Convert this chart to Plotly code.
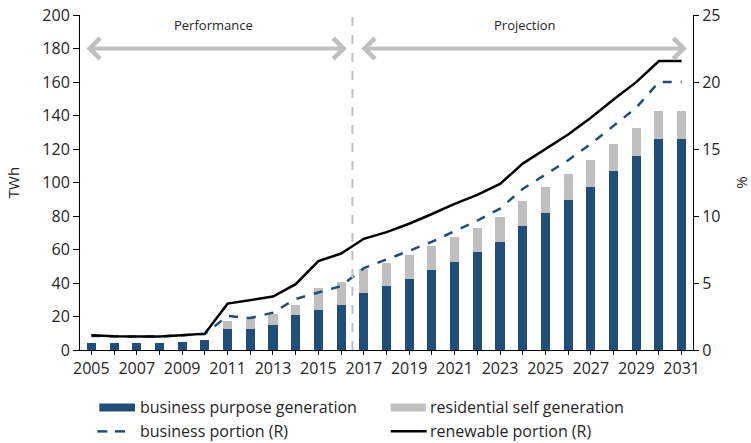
import plotly.graph_objects as go

years = list(range(2005, 2032))
business_gen = [4.0, 4.0, 4.4, 4.4, 4.8, 5.8, 12.7, 12.7, 15.1, 21.1, 23.9, 26.9,
                34.2, 38.0, 42.6, 47.6, 52.3, 58.3, 64.3, 73.8, 81.6, 89.4, 97.5,
                106.7, 115.6, 125.8, 125.8]
total_gen = [4.0, 4.0, 4.4, 4.4, 4.8, 5.8, 17.5, 19.5, 21.5, 26.9, 37.0, 40.6,
             48.5, 51.9, 56.9, 62.1, 67.5, 72.8, 79.4, 89.1, 97.5, 105.1, 113.4,
             122.7, 132.3, 142.7, 142.7]
residential_gen = [round(t - b, 1) for t, b in zip(total_gen, business_gen)]
business_portion = [1.05, 1.0, 1.0, 1.0, 1.1, 1.2, 2.54, 2.39, 2.79, 3.81, 4.29, 4.77,
                    6.11, 6.73, 7.40, 8.08, 8.85, 9.65, 10.55, 12.02, 13.09, 14.16,
                    15.38, 16.75, 18.08, 20.0, 20.0]
renewable_portion = [1.1, 1.02, 1.0, 1.0, 1.1, 1.22, 3.46, 3.72, 3.99, 4.91, 6.63, 7.2,
                     8.30, 8.80, 9.42, 10.15, 10.9, 11.57, 12.39, 13.91, 15.01, 16.08,
                     17.33, 18.7, 19.99, 21.56, 21.56]
tick_text = [str(y) if (y - 2005) % 2 == 0 else "" for y in years]

BLUE = "#1f4e79"
GRAY = "#bfbfbf"
FONT = "Open Sans"
TXT = "#262626"

fig = go.Figure()
fig.add_trace(go.Bar(x=years, y=business_gen, name="business purpose generation",
                     marker=dict(color=BLUE, line=dict(width=0)), width=0.4, showlegend=False))
fig.add_trace(go.Bar(x=years, y=residential_gen, name="residential self generation",
                     marker=dict(color=GRAY, line=dict(width=0)), width=0.4, showlegend=False))
fig.add_trace(go.Scatter(x=years, y=business_portion, name="business portion (R)", yaxis="y2",
                         mode="lines", line=dict(color=BLUE, width=2.5, dash="dash"), showlegend=False))
fig.add_trace(go.Scatter(x=years, y=renewable_portion, name="renewable portion (R)", yaxis="y2",
                         mode="lines", line=dict(color="black", width=2.5), showlegend=False))

L1, L2 = -0.1714, -0.2429
shapes = [
    dict(type="line", xref="x", yref="y", x0=2016.5, x1=2016.5, y0=0, y1=202,
         line=dict(color=GRAY, width=2, dash="dash")),
    # custom legend
    dict(type="rect", xref="paper", yref="paper", x0=0.0315, x1=0.0897, y0=-0.1595, y1=-0.1833,
         fillcolor=BLUE, line=dict(width=0)),
    dict(type="rect", xref="paper", yref="paper", x0=0.5069, x1=0.5641, y0=-0.1595, y1=-0.1833,
         fillcolor=GRAY, line=dict(width=0)),
    dict(type="line", xref="paper", yref="paper", x0=0.0282, x1=0.0445, y0=L2, y1=L2,
         line=dict(color=BLUE, width=2.5)),
    dict(type="line", xref="paper", yref="paper", x0=0.0571, x1=0.0734, y0=L2, y1=L2,
         line=dict(color=BLUE, width=2.5)),
    dict(type="line", xref="paper", yref="paper", x0=0.5069, x1=0.5656, y0=L2, y1=L2,
         line=dict(color="black", width=2.5)),
]

annotations = [
    dict(x=2016.25, y=180, ax=2004.72, ay=180, xref="x", yref="y", axref="x", ayref="y",
         text="", showarrow=True, arrowhead=4, startarrowhead=4, arrowside="end+start",
         arrowwidth=4, arrowsize=1, startarrowsize=1, arrowcolor=GRAY, standoff=0, startstandoff=0),
    dict(x=2031.23, y=180, ax=2016.83, ay=180, xref="x", yref="y", axref="x", ayref="y",
         text="", showarrow=True, arrowhead=4, startarrowhead=4, arrowside="end+start",
         arrowwidth=4, arrowsize=1, startarrowsize=1, arrowcolor=GRAY, standoff=0, startstandoff=0),
    dict(x=2010.4, y=194.3, xref="x", yref="y", text="Performance", showarrow=False,
         font=dict(family=FONT, size=13, color=TXT)),
    dict(x=2024.1, y=194.3, xref="x", yref="y", text="Projection", showarrow=False,
         font=dict(family=FONT, size=13, color=TXT)),
    dict(x=0.0946, y=L1, xref="paper", yref="paper", xanchor="left", yanchor="middle",
         text="business purpose generation", showarrow=False, font=dict(family=FONT, size=16, color=TXT)),
    dict(x=0.5680, y=L1, xref="paper", yref="paper", xanchor="left", yanchor="middle",
         text="residential self generation", showarrow=False, font=dict(family=FONT, size=16, color=TXT)),
    dict(x=0.0946, y=L2, xref="paper", yref="paper", xanchor="left", yanchor="middle",
         text="business portion (R)", showarrow=False, font=dict(family=FONT, size=16, color=TXT)),
    dict(x=0.5680, y=L2, xref="paper", yref="paper", xanchor="left", yanchor="middle",
         text="renewable portion (R)", showarrow=False, font=dict(family=FONT, size=16, color=TXT)),
]

fig.update_layout(
    width=751, height=443,
    margin=dict(l=80, r=58, t=15, b=93, autoexpand=False),
    barmode="stack",
    plot_bgcolor="white", paper_bgcolor="white",
    font=dict(family=FONT, size=16, color=TXT),
    showlegend=False,
    xaxis=dict(range=[2004.5, 2031.5], tickmode="array", tickvals=years, ticktext=tick_text,
               ticks="outside", ticklen=4, tickcolor="black", showline=True, linecolor="black",
               linewidth=1, showgrid=False, zeroline=False, tickfont=dict(size=16), automargin=False),
    yaxis=dict(range=[0, 200], dtick=20, ticks="outside", ticklen=6, tickcolor="black",
               showline=True, linecolor="black", linewidth=1, showgrid=False, zeroline=False,
               title=dict(text="TWh", font=dict(size=15), standoff=19), tickfont=dict(size=16),
               automargin=False),
    yaxis2=dict(range=[0, 25], dtick=5, overlaying="y", side="right", ticks="outside", ticklen=5,
                tickcolor="black", showline=True, linecolor="black", linewidth=1, showgrid=False,
                zeroline=False, title=dict(text="%", font=dict(size=15), standoff=20),
                tickfont=dict(size=16), automargin=False),
    shapes=shapes,
    annotations=annotations,
)

fig.write_html("out.html", config={"displayModeBar": False},
               post_script="document.body.style.margin='0';document.body.style.padding='0';")
